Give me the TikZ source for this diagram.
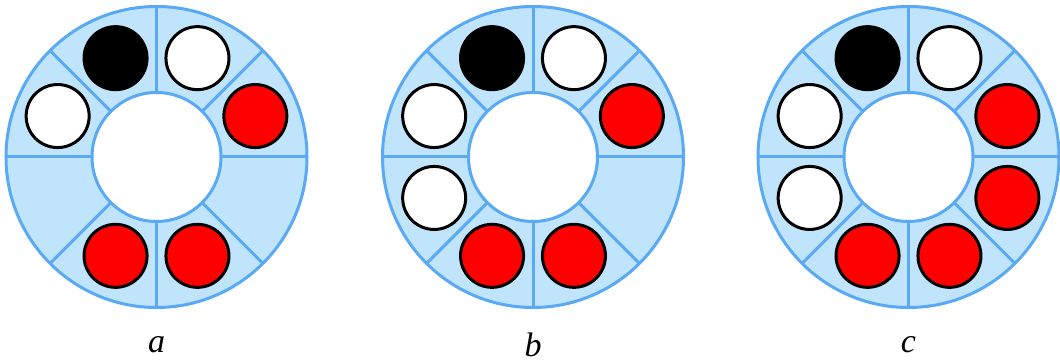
\documentclass[tikz,border=0pt]{standalone}
\usepackage{fontspec}
\setmainfont{Liberation Serif}
\usetikzlibrary{calc}
\definecolor{ringfill}{HTML}{BFE4FB}
\definecolor{ringline}{HTML}{5AA9F5}
\definecolor{ballred}{HTML}{FF0000}
\tikzset{
  ringedge/.style={draw=ringline, line width=3pt},
  ball/.style={circle, draw=black, line width=3pt, minimum size=63pt, inner sep=0pt},
  wball/.style={ball, fill=white},
  bball/.style={ball, fill=black},
  rball/.style={ball, fill=ballred},
  lbl/.style={font=\fontsize{34}{40}\selectfont\itshape, inner sep=0pt}
}
\newcommand{\ringat}[2]{%
  \coordinate (#1) at (#2,206);
  \fill[ringfill, even odd rule] (#1) circle (150.5) (#1) circle (64.5);
  \foreach \ang in {0,45,...,315}{
    \draw[ringedge] ($(#1)+(\ang:64.5)$) -- ($(#1)+(\ang:150.5)$);
  }
  \draw[ringedge] (#1) circle (150.5);
  \draw[ringedge] (#1) circle (64.5);
}
\begin{document}
\begin{tikzpicture}[x=1pt,y=1pt]
\useasboundingbox (0,0) rectangle (1060,363);
% ring a
\ringat{ca}{156.5}
\node[bball] (a1) at ($(ca)+(112.5:107)$) {};
\node[wball] (a2) at ($(ca)+(67.5:107)$) {};
\node[rball] (a3) at ($(ca)+(22.5:107)$) {};
\node[rball] (a5) at ($(ca)+(-67.5:107)$) {};
\node[rball] (a6) at ($(ca)+(-112.5:107)$) {};
\node[wball] (a8) at ($(ca)+(157.5:107)$) {};
% ring b
\ringat{cb}{533}
\node[bball] (b1) at ($(cb)+(112.5:107)$) {};
\node[wball] (b2) at ($(cb)+(67.5:107)$) {};
\node[rball] (b3) at ($(cb)+(22.5:107)$) {};
\node[rball] (b5) at ($(cb)+(-67.5:107)$) {};
\node[rball] (b6) at ($(cb)+(-112.5:107)$) {};
\node[wball] (b7) at ($(cb)+(-157.5:107)$) {};
\node[wball] (b8) at ($(cb)+(157.5:107)$) {};
% ring c
\ringat{cc}{908.5}
\node[bball] (c1) at ($(cc)+(112.5:107)$) {};
\node[wball] (c2) at ($(cc)+(67.5:107)$) {};
\node[rball] (c3) at ($(cc)+(22.5:107)$) {};
\node[rball] (c4) at ($(cc)+(-22.5:107)$) {};
\node[rball] (c5) at ($(cc)+(-67.5:107)$) {};
\node[rball] (c6) at ($(cc)+(-112.5:107)$) {};
\node[wball] (c7) at ($(cc)+(-157.5:107)$) {};
\node[wball] (c8) at ($(cc)+(157.5:107)$) {};
% labels
\node[lbl] (la) at (156.5,18) {a};
\node[lbl] (lb) at (533,18) {b};
\node[lbl] (lc) at (908.5,18) {c};
\end{tikzpicture}
\end{document}
